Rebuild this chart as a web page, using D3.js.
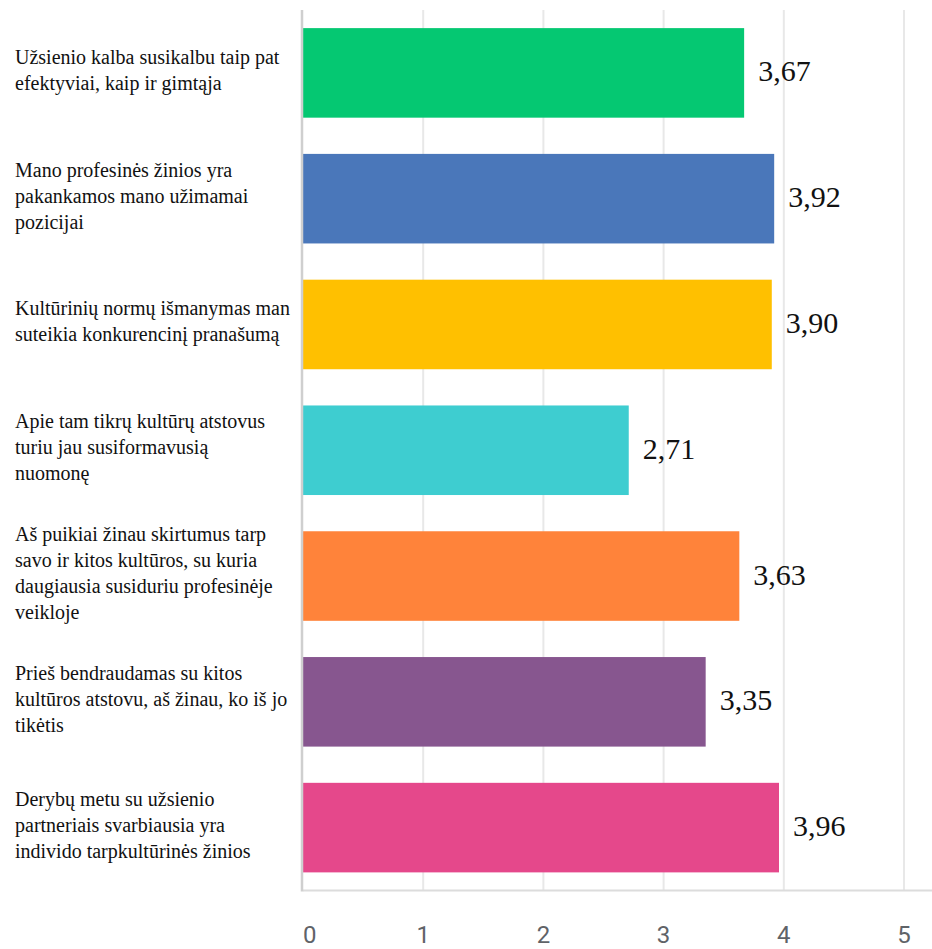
<!DOCTYPE html>
<html>
<head>
<meta charset="utf-8">
<script src="https://cdn.jsdelivr.net/npm/d3@7"></script>
<style>
  html, body { margin: 0; padding: 0; background: #fff; }
  svg { display: block; }
  .serif { font-family: "Liberation Serif", "Times New Roman", Times, serif; }
  .sans { font-family: Roboto, "Noto Sans", sans-serif; }
</style>
</head>
<body>
<svg id="chart" width="932" height="949"></svg>
<script>
// Statement labels, split into the lines they wrap onto
const categories = [
  ["Užsienio kalba susikalbu taip pat", "efektyviai, kaip ir gimtąja"],
  ["Mano profesinės žinios yra", "pakankamos mano užimamai", "pozicijai"],
  ["Kultūrinių normų išmanymas man", "suteikia konkurencinį pranašumą"],
  ["Apie tam tikrų kultūrų atstovus", "turiu jau susiformavusią", "nuomonę"],
  ["Aš puikiai žinau skirtumus tarp", "savo ir kitos kultūros, su kuria", "daugiausia susiduriu profesinėje", "veikloje"],
  ["Prieš bendraudamas su kitos", "kultūros atstovu, aš žinau, ko iš jo", "tikėtis"],
  ["Derybų metu su užsienio", "partneriais svarbiausia yra", "individo tarpkultūrinės žinios"]
];
const values = [3.67, 3.92, 3.90, 2.71, 3.63, 3.35, 3.96];
const barColors = ["#05c872", "#4a77ba", "#ffc000", "#3ecdd0", "#ff833a", "#87568f", "#e5488b"];
const tickValues = [0, 1, 2, 3, 4, 5];

const svg = d3.select("#chart");
const margin = { left: 303, right: 28, top: 10, bottom: 58 };
const W = 932, H = 949;
const plotBottom = H - margin.bottom - 0.5;

const x = d3.scaleLinear().domain([0, 5]).range([margin.left, 904]);
const y = d3.scaleBand()
  .domain(d3.range(values.length))
  .range([margin.top, plotBottom])
  .paddingInner(0.288)
  .paddingOuter(0.144);

// vertical gridlines
svg.append("g")
  .selectAll("line")
  .data(tickValues.slice(1))
  .join("line")
  .attr("x1", d => x(d)).attr("x2", d => x(d))
  .attr("y1", margin.top).attr("y2", plotBottom)
  .attr("stroke", "#e8e8e8")
  .attr("stroke-width", 2);

// bottom baseline
svg.append("line")
  .attr("x1", x(0)).attr("x2", W)
  .attr("y1", plotBottom).attr("y2", plotBottom)
  .attr("stroke", "#dcdcdc")
  .attr("stroke-width", 2);

// bars
svg.append("g")
  .selectAll("rect")
  .data(values)
  .join("rect")
  .attr("x", x(0))
  .attr("y", (d, i) => y(i))
  .attr("width", d => x(d) - x(0))
  .attr("height", y.bandwidth())
  .attr("fill", (d, i) => barColors[i]);

// left axis line
svg.append("line")
  .attr("x1", x(0) - 1).attr("x2", x(0) - 1)
  .attr("y1", margin.top).attr("y2", plotBottom + 1)
  .attr("stroke", "#cfcfcf")
  .attr("stroke-width", 2.5);

// value labels
svg.append("g")
  .attr("class", "serif")
  .selectAll("text")
  .data(values)
  .join("text")
  .attr("x", d => x(d) + 14)
  .attr("y", (d, i) => y(i) + y.bandwidth() / 2 - 2)
  .attr("dy", "0.35em")
  .style("font-size", "30px")
  .attr("fill", "#111")
  .text(d => d.toFixed(2).replace(".", ","));

// category labels
const lineH = 26;
const catG = svg.append("g")
  .attr("class", "serif")
  .style("font-size", "20px")
  .attr("fill", "#111");
categories.forEach((lines, i) => {
  const cy = y(i) + y.bandwidth() / 2 - 3;
  const t = catG.append("text")
    .attr("y", cy - (lines.length - 1) * lineH / 2);
  lines.forEach((ln, j) => {
    t.append("tspan")
      .attr("x", 15)
      .attr("dy", j === 0 ? "0.35em" : lineH)
      .text(ln);
  });
});

// x-axis tick labels
svg.append("g")
  .attr("class", "sans")
  .selectAll("text")
  .data(tickValues)
  .join("text")
  .attr("x", d => x(d))
  .attr("y", 935)
  .attr("dy", "0.35em")
  .attr("text-anchor", d => d === 0 ? "start" : "middle")
  .style("font-size", "24px")
  .attr("fill", "#5f6368")
  .text(d => d);
</script>
</body>
</html>
